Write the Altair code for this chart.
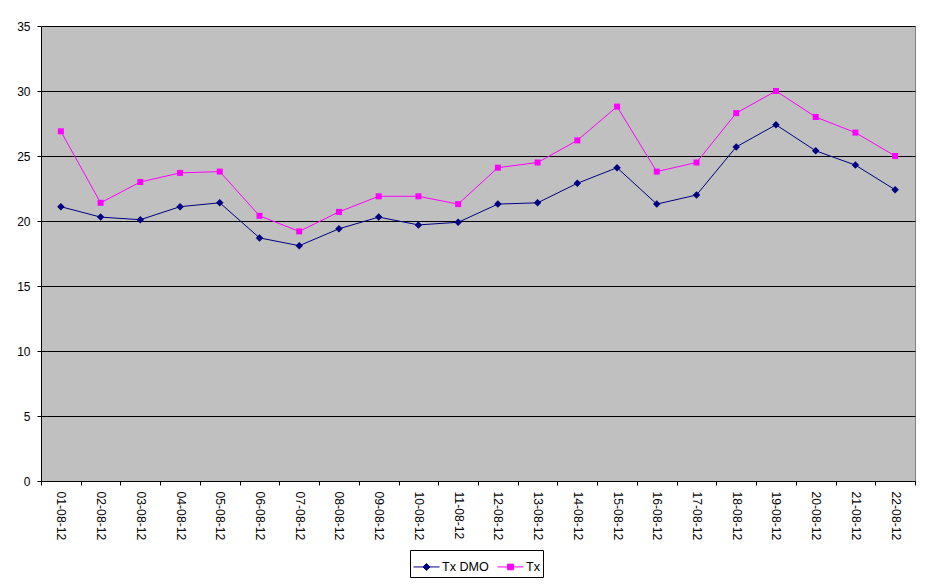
import altair as alt
import pandas as pd

dates = ["01-08-12", "02-08-12", "03-08-12", "04-08-12", "05-08-12", "06-08-12",
         "07-08-12", "08-08-12", "09-08-12", "10-08-12", "11-08-12", "12-08-12",
         "13-08-12", "14-08-12", "15-08-12", "16-08-12", "17-08-12", "18-08-12",
         "19-08-12", "20-08-12", "21-08-12", "22-08-12"]
tx_dmo = [21.1, 20.3, 20.1, 21.1, 21.4, 18.7, 18.1, 19.4, 20.3, 19.7, 19.9, 21.3,
          21.4, 22.9, 24.1, 21.3, 22.0, 25.7, 27.4, 25.4, 24.3, 22.4]
tx = [26.9, 21.4, 23.0, 23.7, 23.8, 20.4, 19.2, 20.7, 21.9, 21.9, 21.3, 24.1,
      24.5, 26.2, 28.8, 23.8, 24.5, 28.3, 30.0, 28.0, 26.8, 25.0]
series_names = ["Tx DMO", "Tx"]
series_colors = ["#000080", "#FF00FF"]
y_ticks = [0, 5, 10, 15, 20, 25, 30, 35]

rows = []
for d, a, b in zip(dates, tx_dmo, tx):
    rows.append({"date": d, "series": "Tx DMO", "value": a})
    rows.append({"date": d, "series": "Tx", "value": b})
df = pd.DataFrame(rows)

FONT = "Liberation Sans"

x = alt.X("date:N", sort=dates,
          scale=alt.Scale(type="band", paddingInner=0, paddingOuter=0),
          axis=alt.Axis(title=None, labelAngle=90, labelAlign="left", labelBaseline="middle",
                        tickBand="extent", labelPadding=6, tickSize=4, grid=False,
                        domainColor="black", tickColor="black", labelColor="black",
                        labelFont=FONT, labelFontSize=12.2))
y = alt.Y("value:Q", scale=alt.Scale(domain=[0, 35], nice=False),
          axis=alt.Axis(title=None, values=y_ticks, grid=True, gridColor="black",
                        gridOpacity=1, gridWidth=1, tickSize=4, labelPadding=7,
                        domainColor="black", tickColor="black", labelColor="black",
                        labelFont=FONT, labelFontSize=12))

base = alt.Chart(df).encode(x=x, y=y)

dmo_layer = base.transform_filter(alt.datum.series == "Tx DMO").mark_line(
    color="#000080", strokeWidth=1,
    point=alt.OverlayMarkDef(shape="diamond", filled=True, size=56, color="#000080", opacity=1))
tx_layer = base.transform_filter(alt.datum.series == "Tx").mark_line(
    color="#FF00FF", strokeWidth=1,
    point=alt.OverlayMarkDef(shape="square", filled=True, size=36, color="#FF00FF", opacity=1))

legend_paths = ["M-1,0H1M0,-0.27L0.27,0L0,0.27L-0.27,0Z",
                "M-1,0H1M-0.22,-0.22H0.22V0.22H-0.22Z"]

def make_legend():
    return alt.Legend(orient="none", legendX=369, legendY=524, direction="horizontal",
                      title=None, strokeColor="black", fillColor="white", padding=3,
                      symbolSize=676, symbolStrokeWidth=1, labelFont=FONT,
                      labelFontSize=12.6, labelColor="black", columnPadding=6, labelOffset=2)

legend_layer = base.transform_filter("false").mark_point(filled=True, opacity=1, strokeWidth=1).encode(
    fill=alt.Fill("series:N", scale=alt.Scale(domain=series_names, range=series_colors),
                  legend=make_legend()),
    stroke=alt.Stroke("series:N", scale=alt.Scale(domain=series_names, range=series_colors),
                      legend=make_legend()),
    shape=alt.Shape("series:N", scale=alt.Scale(domain=series_names, range=legend_paths),
                    legend=make_legend()),
)

chart = alt.layer(dmo_layer, tx_layer, legend_layer).properties(
    width=874, height=455,
    padding={"left": 33, "top": 18, "right": 16, "bottom": 104},
    autosize=alt.AutoSizeParams(type="none"),
    background="white",
).configure_view(fill="#C0C0C0", stroke="#808080", strokeWidth=1)

chart.save("out.html", embed_options={"renderer": "svg", "actions": False})
